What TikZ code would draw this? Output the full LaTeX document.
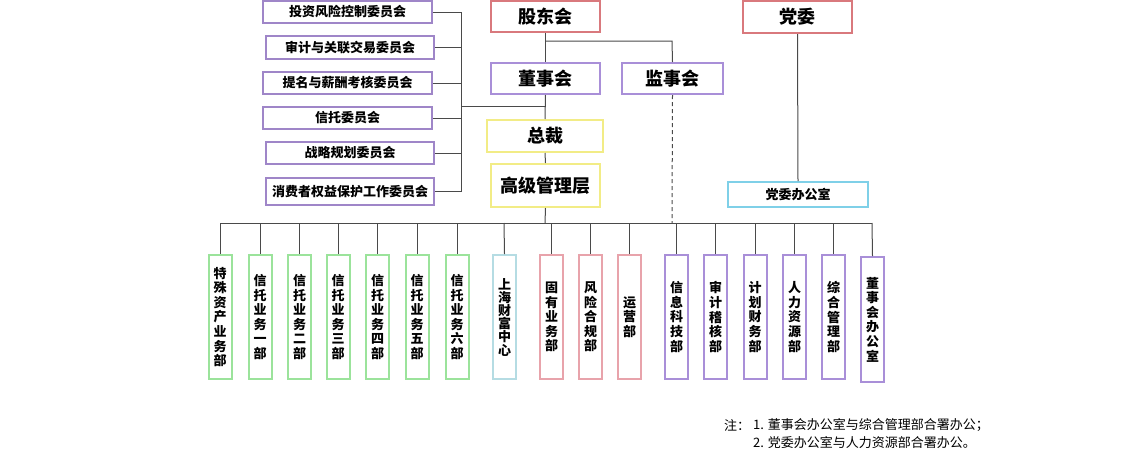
\documentclass[tikz,border=0pt]{standalone}
\usepackage{fontspec}
\newfontfamily\cjk{Noto Sans CJK SC}
\definecolor{cgreen}{HTML}{9BE39B}
\definecolor{cpink}{HTML}{E8A3AB}
\definecolor{cpurple}{HTML}{A98FD8}
\definecolor{cpurp}{HTML}{9F86C8}
\definecolor{cblue}{HTML}{B5DCE3}
\definecolor{cyellow}{HTML}{F2EC86}
\definecolor{cred}{HTML}{D9797D}
\definecolor{ccyan}{HTML}{7FD0E8}
\definecolor{cline}{HTML}{4A4A4A}
\tikzset{
  box/.style={draw, rectangle, line width=2pt, inner sep=0pt, fill=white, text=black},
  combox/.style={box, draw=cpurp, minimum width=168pt, minimum height=22pt, font=\cjk\bfseries\fontsize{13}{15}\selectfont},
  bigbox/.style={box, minimum width=109pt, minimum height=31pt, font=\cjk\bfseries\fontsize{18}{21}\selectfont},
  dept/.style={box, minimum width=23pt, minimum height=124pt, align=center, font=\cjk\bfseries\fontsize{13}{14.6}\selectfont},
  conn/.style={draw=cline, line width=1pt},
  note/.style={anchor=west, inner sep=0pt, font=\cjk\fontsize{13}{15}\selectfont}
}
\begin{document}
\begin{tikzpicture}[x=1pt,y=-1pt]
\useasboundingbox (0,0) rectangle (1128,461);
% committees
\node[combox, minimum width=169pt] (c1) at (347.5,12) {投资风险控制委员会};
\node[combox, minimum height=23pt] (c2) at (350,47.5) {审计与关联交易委员会};
\node[combox, minimum width=169pt] (c3) at (347.5,83) {提名与薪酬考核委员会};
\node[combox, minimum width=169pt] (c4) at (347.5,118) {信托委员会};
\node[combox] (c5) at (350,153) {战略规划委员会};
\node[combox, minimum height=27pt] (c6) at (350,191.5) {消费者权益保护工作委员会};
% top
\node[bigbox, draw=cred] (gdh) at (545.5,16.5) {股东会};
\node[bigbox, draw=cpurple] (dsh) at (545.5,78.5) {董事会};
\node[bigbox, draw=cpurple, minimum width=101pt] (jsh) at (672.5,78.5) {监事会};
\node[bigbox, draw=cyellow, minimum width=116pt, minimum height=32pt] (zc) at (545,136) {总裁};
\node[bigbox, draw=cyellow, minimum height=43pt] (gj) at (545.5,185.5) {高级管理层};
\node[bigbox, draw=cred, minimum height=32pt] (dw) at (797.5,17) {党委};
\node[box, draw=ccyan, minimum width=140pt, minimum height=25pt, font=\cjk\bfseries\fontsize{13}{15}\selectfont] (dwb) at (798,194.5) {党委办公室};
% coordinates
\coordinate (bus) at (461,12);
\coordinate (busb) at (461,191.5);
\coordinate (busm) at (461,106);
\coordinate (mainm) at (545,106);
\coordinate (jsj) at (672,41);
\coordinate (gjs) at (545,41);
\coordinate (bl) at (220,223);
\coordinate (br) at (872,223);
\coordinate (bm) at (545,223);
\coordinate (bj) at (672,223);
% connectors top
\draw[conn] (bus) -- (busb);
\foreach \c/\y in {c1/12,c2/47.5,c3/83,c4/118,c5/153,c6/191.5} {\draw[conn] (\c.east) -- (461,\y);}
\draw[conn] (busm) -- (mainm);
\draw[conn] (gdh.south) -- (dsh.north);
\draw[conn] (gjs) -- (jsj) -- (jsh.north);
\draw[conn] (dsh.south) -- (zc.north);
\draw[conn] (zc.south) -- (gj.north);
\draw[conn] (gj.south) -- (bm);
\draw[conn, dashed, dash pattern=on 4pt off 3pt] (jsh.south) -- (bj);
\draw[conn] (dw.south) -- (dwb.north);
\draw[conn] (bl) -- (br);
% departments
\foreach \n/\x/\col/\t in {
 d1/220/cgreen/{特\\殊\\资\\产\\业\\务\\部},
 d2/260/cgreen/{信\\托\\业\\务\\一\\部},
 d3/299.5/cgreen/{信\\托\\业\\务\\二\\部},
 d4/338/cgreen/{信\\托\\业\\务\\三\\部},
 d5/377.5/cgreen/{信\\托\\业\\务\\四\\部},
 d6/417/cgreen/{信\\托\\业\\务\\五\\部},
 d7/457/cgreen/{信\\托\\业\\务\\六\\部},
 d9/551.5/cpink/{固\\有\\业\\务\\部},
 d10/590.5/cpink/{风\\险\\合\\规\\部},
 d11/629.5/cpink/{运\\营\\部},
 d12/676.5/cpurple/{信\\息\\科\\技\\部},
 d13/715.5/cpurple/{审\\计\\稽\\核\\部},
 d14/755/cpurple/{计\\划\\财\\务\\部},
 d15/794.5/cpurple/{人\\力\\资\\源\\部},
 d16/833.5/cpurple/{综\\合\\管\\理\\部}} {
  \node[dept, draw=\col] (\n) at (\x,317) {\t};
  \draw[conn] (\x,223) -- (\n.north);
}
\node[dept, draw=cblue, font=\cjk\bfseries\fontsize{13}{13.2}\selectfont] (d8) at (504.5,317) {上\\海\\财\\富\\中\\心};
\draw[conn] (504,223) -- (d8.north);
\node[dept, draw=cpurple, minimum height=125pt] (d17) at (872.5,319.5) {董\\事\\会\\办\\公\\室};
\draw[conn] (br) -- (d17.north);
% notes
\node[note] (n0) at (724,425) {注：};
\node[note] (n1) at (753,425) {1. 董事会办公室与综合管理部合署办公；};
\node[note] (n2) at (753,443) {2. 党委办公室与人力资源部合署办公。};
\end{tikzpicture}
\end{document}
